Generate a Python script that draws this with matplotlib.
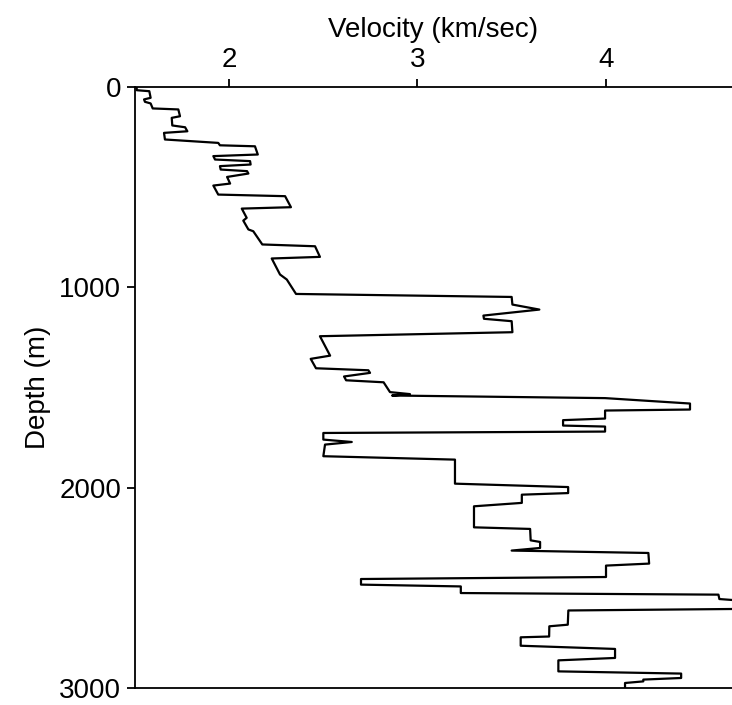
import matplotlib
matplotlib.use("Agg")
import matplotlib.pyplot as plt

plt.rcParams['font.family'] = ['Liberation Sans Narrow', 'Liberation Sans', 'DejaVu Sans']

velocity = [1.509, 1.509, 1.576, 1.583, 1.548, 1.553, 1.583, 1.594, 1.730, 1.739, 1.695,
            1.698, 1.766, 1.778, 1.654, 1.659, 1.942, 1.951, 2.137, 2.152, 1.916,
            1.925, 2.111, 2.114, 1.951, 1.955, 2.095, 2.102, 1.989, 2.005, 1.916,
            1.942, 2.297, 2.328, 2.067, 2.093, 2.075, 2.102, 2.128, 2.176, 2.456,
            2.482, 2.226, 2.270, 2.306, 2.355, 3.500, 3.504, 3.647, 3.350, 3.353,
            3.500, 3.504, 2.482, 2.536, 2.433, 2.461, 2.739, 2.748, 2.610, 2.621,
            2.820, 2.854, 2.960, 2.865, 3.996, 4.447, 4.447, 3.996, 3.996, 3.773,
            3.773, 3.996, 3.996, 2.500, 2.500, 2.651, 2.509, 2.500, 3.199, 3.199,
            3.800, 3.800, 3.554, 3.554, 3.300, 3.300, 3.598, 3.601, 3.651, 3.651,
            3.500, 4.226, 4.230, 4.001, 4.001, 2.700, 2.700, 3.230, 3.230, 4.598,
            4.603, 4.750, 4.750, 3.801, 3.798, 3.700, 3.699, 3.548, 3.548, 4.049,
            4.049, 3.748, 3.748, 4.400, 4.400, 4.199, 4.199, 4.102, 4.102]
depth = [0, 16, 21, 54, 62, 74, 82, 107, 112, 146, 154,
         192, 201, 221, 229, 262, 279, 291, 296, 337, 345,
         362, 370, 387, 395, 412, 420, 432, 449, 482, 492,
         537, 545, 600, 607, 653, 667, 711, 720, 786, 795,
         848, 856, 936, 961, 1033, 1048, 1086, 1111, 1141, 1157,
         1169, 1224, 1244, 1341, 1357, 1404, 1414, 1427, 1445, 1464,
         1474, 1523, 1533, 1540, 1553, 1580, 1610, 1615, 1655, 1663,
         1690, 1695, 1720, 1727, 1760, 1772, 1785, 1843, 1860, 1980,
         1997, 2027, 2035, 2076, 2093, 2198, 2206, 2263, 2271, 2301,
         2314, 2326, 2379, 2389, 2446, 2456, 2484, 2493, 2526, 2534,
         2556, 2566, 2605, 2613, 2684, 2692, 2743, 2747, 2789, 2805,
         2850, 2862, 2917, 2928, 2950, 2958, 2967, 2975, 3000]

x_ticks = [2, 3, 4]
y_ticks = [0, 1000, 2000, 3000]

fig = plt.figure(figsize=(7.32, 7.05), dpi=100)
ax = fig.add_axes([135/732, 1 - 688/705, 1 - 135/732, (688 - 87)/705])
ax.plot(velocity, depth, color='black', lw=1.6, clip_on=True)
ax.set_xlim(1.5, 4.67)
ax.set_ylim(3000, 0)
ax.xaxis.set_ticks_position('top')
ax.xaxis.set_label_position('top')
ax.set_xticks(x_ticks)
ax.set_yticks(y_ticks)
ax.tick_params(axis='both', direction='out', length=6, width=1.3, labelsize=20, pad=4)
ax.set_xlabel('Velocity (km/sec)', fontsize=20, labelpad=7)
ax.set_ylabel('Depth (m)', fontsize=20, labelpad=6)
ax.spines['right'].set_visible(False)
for s in ['left', 'top', 'bottom']:
    ax.spines[s].set_linewidth(1.3)
fig.savefig('out.png', dpi=100)
